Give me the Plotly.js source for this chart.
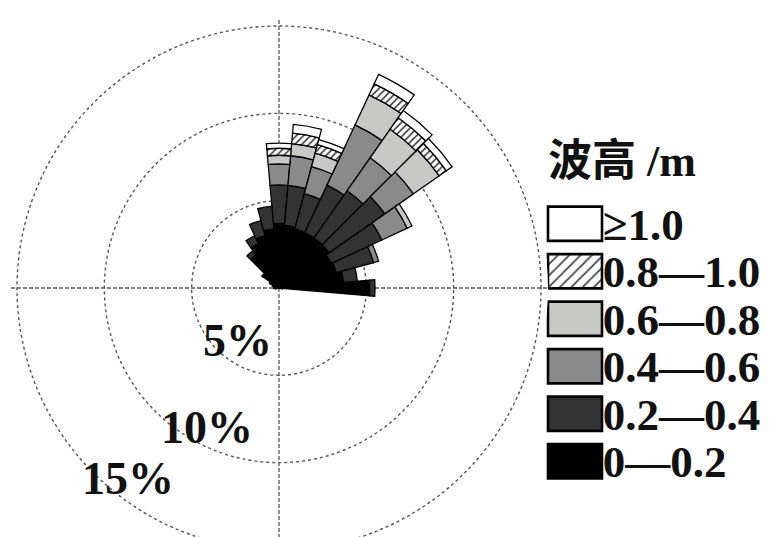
<!DOCTYPE html>
<html><head><meta charset="utf-8">
<script src="https://cdn.plot.ly/plotly-3.0.1.min.js"></script>
<style>html,body{margin:0;padding:0;overflow:hidden;background:#fff}#chart{width:781px;height:560px}</style>
</head><body><div id="chart"></div>
<script>
// Wave directions (degrees, clockwise from north)
const directions = [0,10,20,30,40,50,60,70,80,90,100,110,120,130,140,150,160,170,180,190,200,210,220,230,240,250,260,270,280,290,300,310,320,330,340,350];
// Wave-height classes (m)
const waveClasses = ['0—0.2','0.2—0.4','0.4—0.6','0.6—0.8','0.8—1.0','≥1.0'];
// Frequency (%) of each class per direction
const freq_0_02   = [3.7,3.6,3.5,3.5,3.5,3.5,3.3,3.4,3.7,5.2,0.2,0,0,0,0,0,0,0,0,0,0,0,0,0,0,0,0.2,0.3,0.3,0.4,0.6,1.1,2.3,2.8,3.1,3.4];
const freq_02_04  = [2.2,2.3,2.1,3.0,3.3,3.9,3.2,2.2,0.8,0.3,0,0,0,0,0,0,0,0,0,0,0,0,0,0,0,0,0,0,0,0,0,0.1,0.3,0.5,0.9,1.3];
const freq_04_06  = [1.2,1.7,1.6,3.8,2.3,2.0,1.6,0.3,0,0,0,0,0,0,0,0,0,0,0,0,0,0,0,0,0,0,0,0,0,0,0,0,0,0,0,0];
const freq_06_08  = [0.5,0.7,0.8,1.9,2.0,1.8,0.3,0,0,0,0,0,0,0,0,0,0,0,0,0,0,0,0,0,0,0,0,0,0,0,0,0,0,0,0,0];
const freq_08_10  = [0.4,0.6,0.5,0.7,0.8,0.5,0,0,0,0,0,0,0,0,0,0,0,0,0,0,0,0,0,0,0,0,0,0,0,0,0,0,0,0,0,0];
const freq_ge10   = [0.3,0.5,0.3,0.6,0.5,0.4,0,0,0,0,0,0,0,0,0,0,0,0,0,0,0,0,0,0,0,0,0,0,0,0,0,0,0,0,0,0];
const radialTicks = [5,10,15];
const legendTitle = '波高 /m';

const series = [freq_0_02, freq_02_04, freq_04_06, freq_06_08, freq_08_10, freq_ge10];
const fills = ['#000000','#333333','#8a8a8a','#c8c8c4','#ffffff','#ffffff'];
const patterns = ['','','','','/',''];

const traces = series.map((vals,i)=>({
  type:'barpolar', r: vals, theta: directions, name: waveClasses[i],
  marker:{color: fills[i], line:{color:'#000', width:1.3},
    pattern: patterns[i] ? {shape: patterns[i], fgcolor:'#333', bgcolor:'#fff', size:5, solidity:0.3} : {shape:''}},
  showlegend:false, hoverinfo:'skip'
}));

// Legend drawn as a small bar chart on its own axes, one trace per class
waveClasses.forEach((cls,i)=>{
  traces.push({
    type:'bar', orientation:'h', xaxis:'x', yaxis:'y',
    y:[cls], x:[1], width:0.72,
    marker:{color: fills[i], line:{color:'#000', width:2.6},
      pattern: patterns[i] ? {shape: patterns[i], fgcolor:'#444', bgcolor:'#fff', size:8, solidity:0.22} : {shape:''}},
    showlegend:false, hoverinfo:'skip'
  });
});

const W = 781, H = 560;
const cx = 279, cy = 288, R15 = 262;
const rMax = 15.4, R = R15 * rMax / 15;
const px = (x)=> x / W, py = (y)=> 1 - y / H;

const labelPos = {5:[238,341], 10:[207,427], 15:[128,478]};
const annotations = radialTicks.map(t=>({
  xref:'paper', yref:'paper', x: px(labelPos[t][0]), y: py(labelPos[t][1]),
  text: '<b>' + t + '%</b>', showarrow:false, xanchor:'center', yanchor:'middle',
  font:{family:'Liberation Serif, serif', size:46, color:'#111'}
}));
annotations.push({
  xref:'paper', yref:'paper', x: px(546), y: py(161), xanchor:'left', yanchor:'middle',
  text:'<b>'+legendTitle+'</b>', showarrow:false,
  font:{family:'Liberation Serif, Noto Sans CJK SC, serif', size:44, color:'#111'}
});

const layout = {
  width: W, height: H, margin:{l:0,r:0,t:0,b:0,pad:0},
  paper_bgcolor:'#fff', plot_bgcolor:'#fff', showlegend:false,
  polar:{
    domain:{x:[px(cx-R), px(cx+R)], y:[py(cy+R), py(cy-R)]},
    bgcolor:'#fff', barmode:'stack', bargap:0, hole:0,
    radialaxis:{range:[0,rMax], tickvals: radialTicks, showticklabels:false, ticks:'',
      showline:false, showgrid:true, gridcolor:'#555', gridwidth:1.4, griddash:'dot'},
    angularaxis:{rotation:90, direction:'clockwise', tickvals:[0,90,180,270],
      showticklabels:false, ticks:'', showline:false, showgrid:true,
      gridcolor:'#555', gridwidth:1.3, griddash:'4px,2px'}
  },
  barmode:'overlay',
  xaxis:{domain:[px(545.3), px(604.7)], range:[-0.05,1.05], visible:false, fixedrange:true},
  yaxis:{domain:[py(485), py(200)], anchor:'x', side:'right', type:'category',
    categoryorder:'array', categoryarray: waveClasses,
    tickmode:'array', tickvals: waveClasses, ticktext: waveClasses.map(s=>'<b>'+s+'</b>'),
    showgrid:false, zeroline:false, showline:false, ticks:'', ticklabelstandoff:-3,
    tickfont:{family:'Liberation Serif, serif', size:45, color:'#111'}, fixedrange:true},
  annotations: annotations
};

Plotly.newPlot('chart', traces, layout, {staticPlot:true, displayModeBar:false});
</script></body></html>
